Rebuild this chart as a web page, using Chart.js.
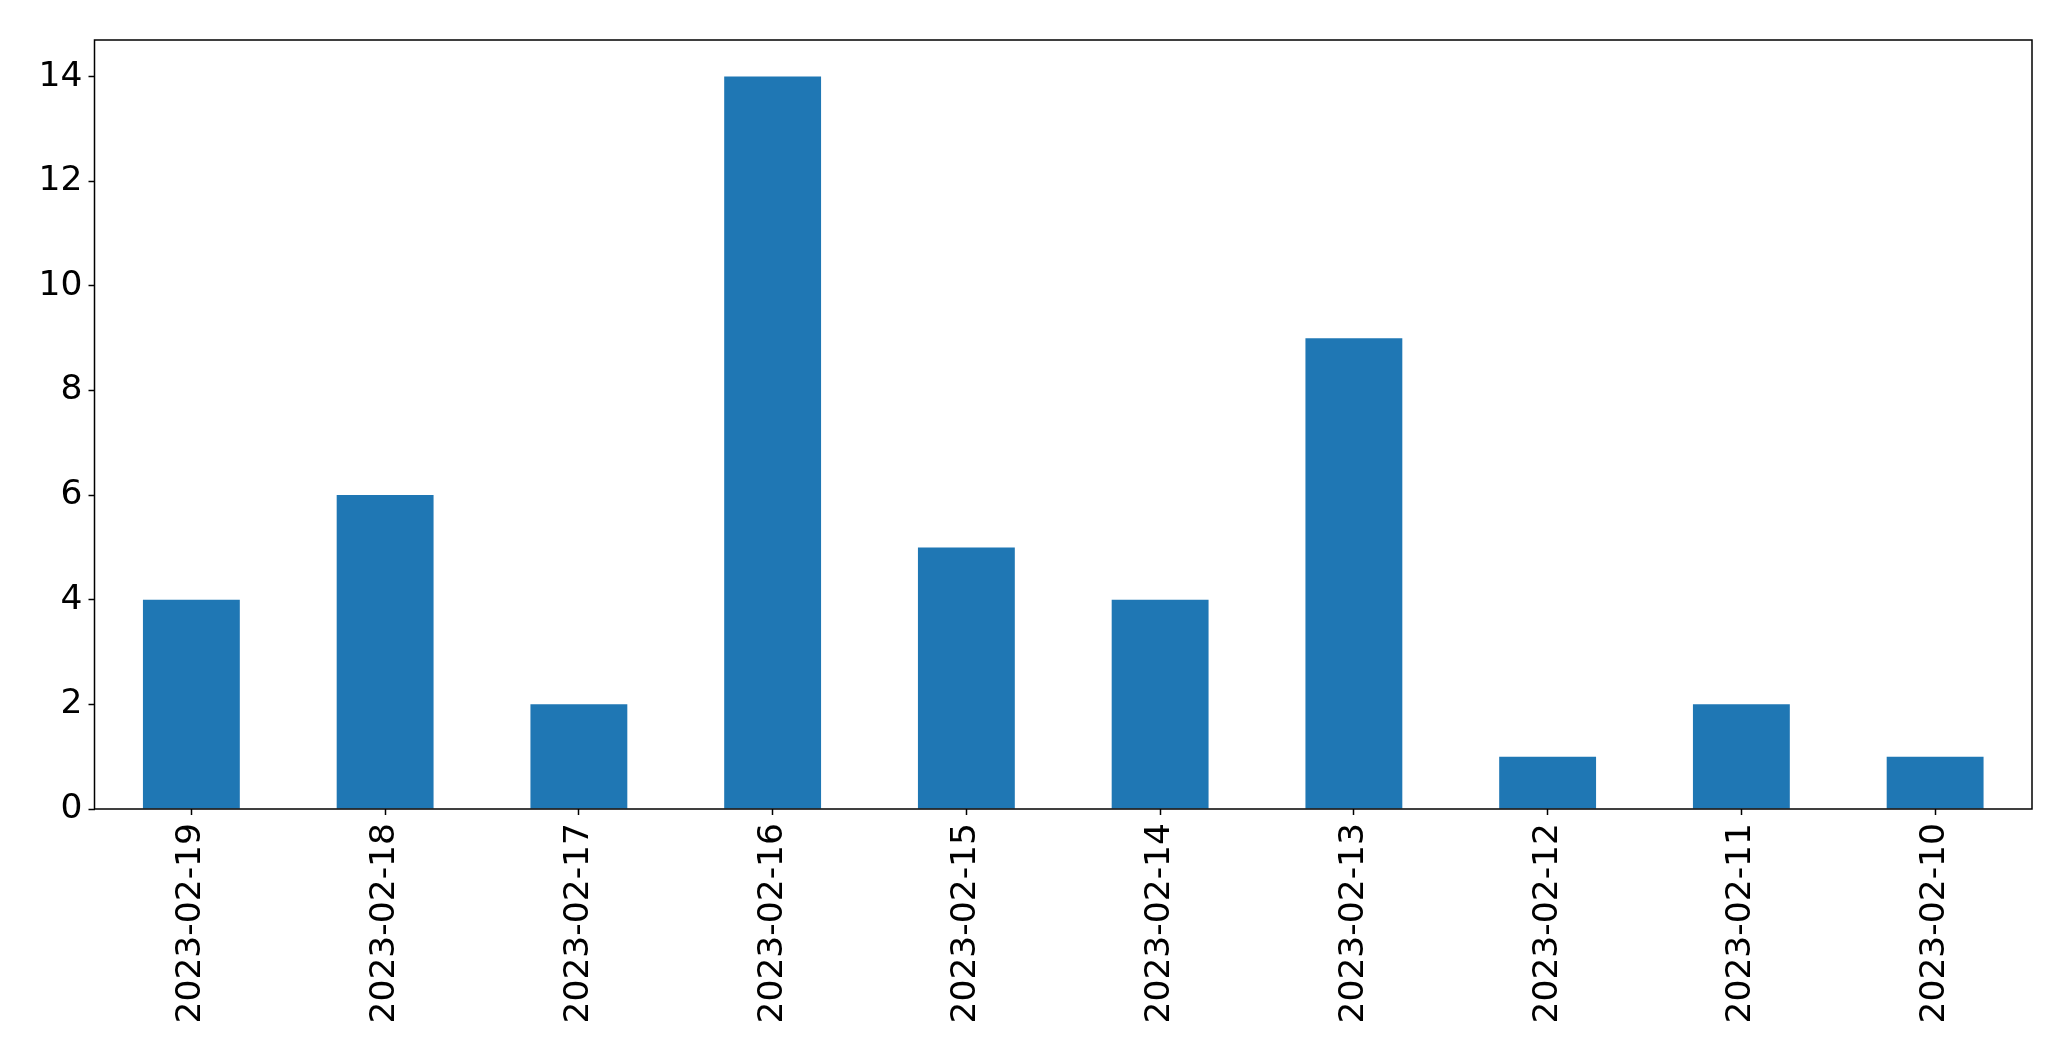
<!DOCTYPE html>
<html>
<head>
<meta charset="utf-8">
<script src="https://cdn.jsdelivr.net/npm/chart.js@4.4.0/dist/chart.umd.min.js"></script>
<style>
  html, body { margin: 0; padding: 0; background: #fff; }
  #wrap { width: 2071px; height: 1061px; }
</style>
</head>
<body>
<div id="wrap"><canvas id="chart" width="2071" height="1061"></canvas></div>
<script>
// Daten
const dates = ['2023-02-19', '2023-02-18', '2023-02-17', '2023-02-16', '2023-02-15',
               '2023-02-14', '2023-02-13', '2023-02-12', '2023-02-11', '2023-02-10'];
const counts = [4, 6, 2, 14, 5, 4, 9, 1, 2, 1];
const yTicks = [0, 2, 4, 6, 8, 10, 12, 14];

// Rahmen um den Plotbereich
const framePlugin = {
  id: 'frame',
  afterDraw(chart) {
    const { ctx, chartArea: a } = chart;
    ctx.save();
    ctx.strokeStyle = '#000';
    ctx.lineWidth = 1.5;
    ctx.strokeRect(a.left, a.top, a.right - a.left, a.bottom - a.top);
    ctx.restore();
  }
};

const tickFont = { family: 'DejaVu Sans', size: 34.5 };

new Chart(document.getElementById('chart').getContext('2d'), {
  type: 'bar',
  data: {
    labels: dates,
    datasets: [{
      data: counts,
      backgroundColor: '#1f77b4',
      borderWidth: 0,
      categoryPercentage: 1,
      barPercentage: 0.5
    }]
  },
  options: {
    responsive: false,
    animation: false,
    layout: { padding: { top: 40, right: 39, left: 0, bottom: 0 } },
    plugins: {
      legend: { display: false },
      tooltip: { enabled: false }
    },
    scales: {
      x: {
        grid: { offset: false, drawOnChartArea: false, drawTicks: true, tickLength: 6, tickColor: '#000', tickWidth: 1.5 },
        border: { display: false },
        ticks: { color: '#000', font: tickFont, minRotation: 90, maxRotation: 90, padding: 8, autoSkip: false },
        afterFit(scale) { scale.height = 252; }
      },
      y: {
        min: 0,
        max: 14.7,
        grid: { drawOnChartArea: false, drawTicks: true, tickLength: 6, tickColor: '#000', tickWidth: 1.5 },
        border: { display: false },
        ticks: { color: '#000', font: tickFont, padding: 6 },
        afterBuildTicks(scale) { scale.ticks = yTicks.map(v => ({ value: v })); },
        afterFit(scale) { scale.width = 94.5; }
      }
    }
  },
  plugins: [framePlugin]
});
</script>
</body>
</html>
